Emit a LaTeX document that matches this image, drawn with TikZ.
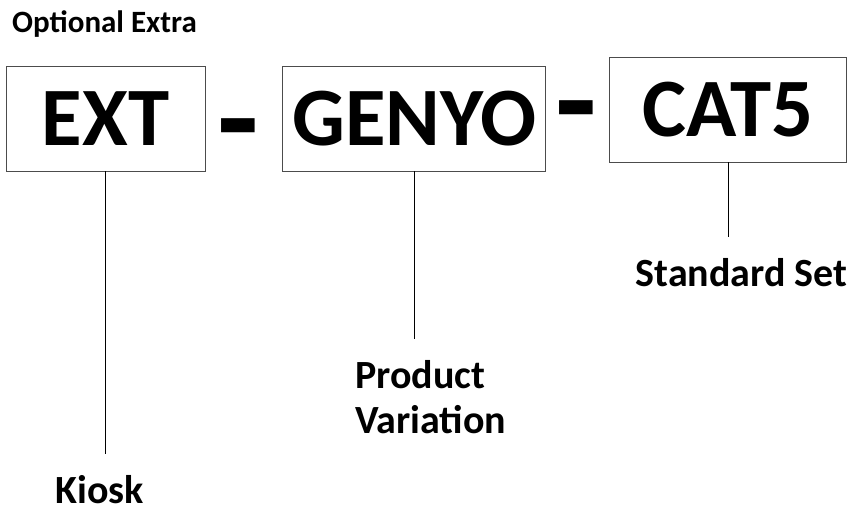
\documentclass[tikz,border=0pt]{standalone}
\usepackage{fontspec}
\setmainfont{Carlito}
\usetikzlibrary{positioning}

\begin{document}
\begin{tikzpicture}[x=1pt,y=-1pt,part/.style={draw=black!70,line width=0.9pt,inner sep=0pt,minimum height=105pt,font=\fontsize{83}{96}\selectfont\bfseries},sep/.style={inner sep=0pt,font=\fontsize{136}{160}\selectfont\bfseries},lbl/.style={inner sep=0pt,font=\fontsize{40}{45}\selectfont\bfseries},link/.style={line width=1.3pt,shorten >=21pt}] %
    \useasboundingbox (0,0) rectangle (853,508); %
    \node[inner sep=0pt,anchor=base west,font=\fontsize{31}{36}\selectfont\bfseries] (optional) at (12,33) {Optional Extra} ; %
    \node[part,minimum width=199pt] (ext) at (105.5,118.5) {EXT} ; %
    \node[part,minimum width=263pt,right=77pt of ext] (genyo) {GENYO} ; %
    \node[part,minimum width=237pt,right=63pt of genyo,yshift=9pt] (cat5) {CAT5} ; %
    \node[sep,anchor=north] (minusa) at (238,118) {-};
    \node[sep,anchor=north] (minusb) at (576,100) {-};
    \node[lbl,anchor=base] (kiosk) at (99.5,503) {Kiosk};
    \node[lbl,anchor=north west,align=left] (variation) at (355,360) {Product\\Variation};
    \node[lbl,anchor=base] (standard) at (741.5,286) {Standard Set};
    \draw[link] (ext.south)--(ext.south |- kiosk.north) ; %
    \draw[link] (genyo.south)--(genyo.south |- variation.north);
    \draw[link] (cat5.south)--(cat5.south |- standard.north);
  \end{tikzpicture}
\end{document}
